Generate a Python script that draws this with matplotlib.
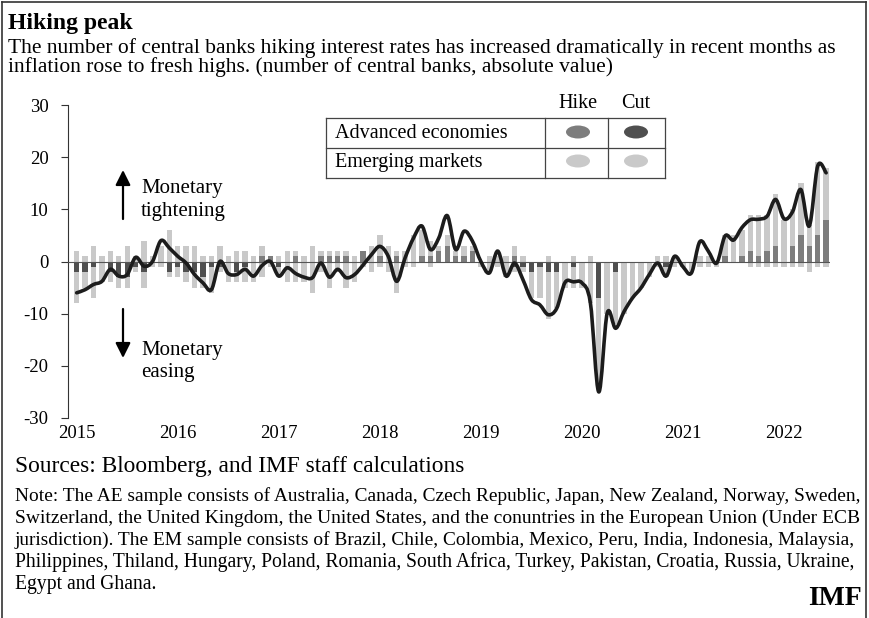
import matplotlib
matplotlib.use("Agg")
import matplotlib.pyplot as plt
import numpy as np
from matplotlib.patches import Ellipse, PathPatch
from matplotlib.path import Path
from matplotlib.lines import Line2D

plt.rcParams['font.family'] = ['Liberation Serif', 'DejaVu Serif']

# ---------------- data (monthly, Jan 2015 - Jun 2022) ----------------
start_year = 2015
em_hike = [2, 1, 3, 1, 2, 1, 3, 1, 4, 1, 3, 6,
           3, 3, 3, 1, 1, 3, 1, 2, 2, 1, 2, 0,
           1, 2, 1, 1, 3, 1, 1, 1, 1, 1, 0, 3,
           4, 3, 1, 2, 5, 5, 3, 1, 2, 1, 2, 1,
           0, 1, 1, 1, 2, 1, 0, 0, 1, 0, 0, 1,
           0, 1, 0, 0, 0, 0, 0, 0, 0, 1, 1, 1,
           0, 0, 1, 1, 0, 4, 5, 5, 7, 8, 7, 10,
           8, 7, 10, 4, 14, 10]
em_cut = [-6, -3, -6, -4, -2, -2, -2, -1, -3, -1, -1, -1,
          -2, -2, -3, -2, -5, -1, -4, -2, -3, -4, -3, -1,
          -2, -4, -4, -4, -6, -2, -5, -2, -5, -4, -1, -2,
          -1, -2, -6, -1, -1, 0, -1, 0, 0, 0, 0, 0,
          -1, -2, -1, -3, -1, -1, -5, -6, -9, -7, -5, -4,
          -5, -8, -17, -10, -10, -10, -7, -5, -3, -1, -2, -1,
          -1, -2, -1, -1, -1, 0, 0, 0, -1, -1, -1, -1,
          -1, -1, -1, -2, -1, -1]
ae_hike = [0, 0, 0, 0, 0, 0, 0, 0, 0, 0, 0, 0,
           0, 0, 0, 0, 0, 0, 0, 0, 0, 0, 1, 1,
           0, 0, 1, 0, 0, 1, 1, 1, 1, 0, 2, 0,
           1, 0, 1, 0, 0, 1, 1, 2, 3, 1, 1, 2,
           0, 0, 0, 0, 1, 0, 0, 0, 0, 0, 0, 0,
           0, 0, 0, 0, 0, 0, 0, 0, 0, 0, 0, 0,
           0, 0, 0, 0, 0, 1, 0, 1, 2, 1, 2, 3,
           0, 3, 5, 3, 5, 8]
ae_cut = [-2, -2, -1, 0, -2, -3, -3, -1, -2, 0, 0, -2,
          -1, -2, -2, -3, -1, -1, 0, -2, -1, 0, 0, 0,
          -1, 0, 0, 0, 0, 0, 0, 0, 0, 0, 0, 0,
          0, 0, 0, 0, 0, 0, 0, 0, 0, 0, 0, 0,
          0, 0, 0, 0, -1, -1, -2, -1, -2, -2, 0, -1,
          0, 0, -7, 0, -2, 0, 0, 0, 0, 0, -1, 0,
          0, 0, 0, 0, 0, 0, 0, 0, 0, 0, 0, 0,
          0, 0, 0, 0, 0, 0]
net_line = [-6.0, -5.4, -4.4, -3.8, -1.5, -2.8, -2.5, 0.8, -0.9, 0.0, 4.0, 2.6,
            1.0, -0.3, -2.5, -4.1, -5.4, 0.0, -2.3, -2.5, -1.5, -2.8, -0.8, 0.0,
            -2.8, -1.2, -2.3, -3.0, -3.1, -0.3, -3.0, -1.5, -3.1, -2.5, -0.7, 1.3,
            2.9, 1.0, -3.8, 0.7, 4.5, 6.8, 2.3, 4.5, 8.8, 2.3, 5.8, 3.9,
            0.0, -2.2, 2.0, -2.8, -0.3, -3.5, -7.3, -8.3, -10.2, -9.0, -4.0, -3.9,
            -4.1, -7.9, -25.0, -9.9, -12.8, -9.6, -7.0, -5.1, -2.5, -0.3, -2.8, 1.0,
            -1.0, -2.2, 3.8, 2.0, -0.3, 4.9, 4.1, 6.5, 8.0, 8.1, 8.7, 11.9,
            8.2, 9.5, 13.8, 6.8, 18.3, 17.0]
year_ticks = [2015, 2016, 2017, 2018, 2019, 2020, 2021, 2022]
year_labels = ['2015', '2016', '2017', '2018', '2019', '2020', '2021', '2022']
y_ticks = [30, 20, 10, 0, -10, -20, -30]
y_labels = ['30', '20', '10', '0', '-10', '-20', '-30']
legend_rows = ['Advanced economies', 'Emerging markets']
legend_cols = ['Hike', 'Cut']

# ---------------- styling ----------------
LIGHT = '#c9c9c9'
AE_HIKE_C = '#7d7d7d'
AE_CUT_C = '#4f4f4f'
W, H = 869, 618
fig = plt.figure(figsize=(W / 100, H / 100), dpi=100)
fig.patch.set_facecolor('white')


def fx(px):
    return px / W


def fy(py):
    return 1 - py / H


def fit(t, target_px):
    fig.canvas.draw()
    r = fig.canvas.get_renderer()
    w = t.get_window_extent(r).width
    t.set_fontsize(t.get_fontsize() * target_px / w)
    return t.get_fontsize()


ax = fig.add_axes([fx(68), fy(418), (830 - 68) / W, (418 - 105) / H])
n = len(net_line)
x = start_year + np.arange(n) / 12.0
bw = 0.64 / 12
em_hike_a = np.array(em_hike, float)
em_cut_a = np.array(em_cut, float)
ae_hike_a = np.array(ae_hike, float)
ae_cut_a = np.array(ae_cut, float)

ax.bar(x, em_hike_a, bw, bottom=ae_hike_a, color=LIGHT, linewidth=0, zorder=2)
ax.bar(x, em_cut_a, bw, bottom=ae_cut_a, color=LIGHT, linewidth=0, zorder=2)
ax.bar(x, ae_hike_a, bw, color=AE_HIKE_C, linewidth=0, zorder=3)
ax.bar(x, ae_cut_a, bw, color=AE_CUT_C, linewidth=0, zorder=3)
ax.axhline(0, color='#555555', lw=0.8, zorder=4)

# smooth (Catmull-Rom style) rendering of the net line through the data points
yv = np.array(net_line, float)
pts = np.column_stack([x, yv])
verts = [pts[0]]
codes = [Path.MOVETO]
for i in range(n - 1):
    p0 = pts[i - 1] if i > 0 else pts[i]
    p1 = pts[i]
    p2 = pts[i + 1]
    p3 = pts[i + 2] if i + 2 < n else pts[i + 1]
    c1 = p1 + (p2 - p0) / 6.0
    c2 = p2 - (p3 - p1) / 6.0
    verts += [c1, c2, p2]
    codes += [Path.CURVE4] * 3
ax.add_patch(PathPatch(Path(verts, codes), facecolor='none', edgecolor='#1c1c1c',
                       lw=2.6, joinstyle='round', capstyle='round', zorder=5))

ax.set_xlim(2014.914, 2022.455)
ax.set_ylim(-30, 30)
ax.set_yticks(y_ticks)
ax.set_yticklabels(y_labels)
ax.set_xticks(year_ticks)
ax.set_xticklabels(year_labels)
for s in ['top', 'right', 'bottom']:
    ax.spines[s].set_visible(False)
ax.spines['left'].set_color('#333333')
ax.spines['left'].set_linewidth(0.8)
ax.tick_params(axis='y', direction='out', length=5, width=0.8, color='#333333',
               labelsize=13.5, pad=9)
ax.tick_params(axis='x', length=0, labelsize=13.5, pad=5)
ax.set_facecolor('none')

# ---------------- legend table ----------------
lx0, lx1, lx2, lx3 = 326, 545, 608, 665
ly0, ly1, ly2 = 118, 148, 178
lc = '#444444'
for (xa, ya, xb, yb) in [(lx0, ly0, lx3, ly0), (lx0, ly1, lx3, ly1), (lx0, ly2, lx3, ly2),
                         (lx0, ly0, lx0, ly2), (lx1, ly0, lx1, ly2), (lx2, ly0, lx2, ly2),
                         (lx3, ly0, lx3, ly2)]:
    fig.add_artist(Line2D([fx(xa), fx(xb)], [fy(ya), fy(yb)], color=lc, lw=0.9))
fig.text(fx(335), fy(133), legend_rows[0], fontsize=14.5, va='center', ha='left')
fig.text(fx(335), fy(162), legend_rows[1], fontsize=14.5, va='center', ha='left')
fig.text(fx(578), fy(104), legend_cols[0], fontsize=14.5, va='center', ha='center')
fig.text(fx(636), fy(104), legend_cols[1], fontsize=14.5, va='center', ha='center')
ecols = [[AE_HIKE_C, AE_CUT_C], [LIGHT, LIGHT]]
for r, cy in enumerate([132, 161]):
    for c, cx in enumerate([578, 636]):
        fig.add_artist(Ellipse((fx(cx), fy(cy)), 24 / W, 13 / H, color=ecols[r][c], lw=0))

# ---------------- arrows & annotations ----------------
ap = dict(arrowstyle='-|>,head_length=0.9,head_width=0.45', color='black', lw=1.6,
          shrinkA=0, shrinkB=0)
ax.annotate('', xy=(fx(123), fy(170)), xytext=(fx(123), fy(219)),
            xycoords='figure fraction', textcoords='figure fraction', arrowprops=ap)
ax.annotate('', xy=(fx(123), fy(358)), xytext=(fx(123), fy(309)),
            xycoords='figure fraction', textcoords='figure fraction', arrowprops=ap)
fig.text(fx(141), fy(189), 'Monetary', fontsize=15, va='center')
fig.text(fx(141), fy(212), 'tightening', fontsize=15, va='center')
fig.text(fx(141), fy(350), 'Monetary', fontsize=15, va='center')
fig.text(fx(141), fy(372), 'easing', fontsize=15, va='center')

# ---------------- titles and notes ----------------
fig.text(fx(8), fy(29), 'Hiking peak', fontsize=17, fontweight='bold', va='baseline')
t_sub = fig.text(fx(8), fy(53), 'The number of central banks hiking interest rates has increased '
                 'dramatically in recent months as', fontsize=13.6, va='baseline')
sub_size = fit(t_sub, 825)
fig.text(fx(8), fy(72), 'inflation rose to fresh highs. (number of central banks, absolute value)',
         fontsize=sub_size, va='baseline')
t_src = fig.text(fx(15), fy(472), 'Sources: Bloomberg, and IMF staff calculations', fontsize=14.5,
                 va='baseline')
fit(t_src, 447)
notes = ['Note: The AE sample consists of Australia, Canada, Czech Republic, Japan, New Zealand, Norway, Sweden,',
         'Switzerland, the United Kingdom, the United States, and the conuntries in the European Union (Under ECB',
         'jurisdiction). The EM sample consists of Brazil, Chile, Colombia, Mexico, Peru, India, Indonesia, Malaysia,',
         'Philippines, Thiland, Hungary, Poland, Romania, South Africa, Turkey, Pakistan, Croatia, Russia, Ukraine,',
         'Egypt and Ghana.']
note_size = 12.3
for k, line in enumerate(notes):
    t = fig.text(fx(15), fy(501 + 22 * k), line, fontsize=12.3, va='baseline')
    if k < len(notes) - 1:
        note_size = fit(t, 844)
    else:
        t.set_fontsize(note_size)
fig.text(fx(862), fy(605), 'IMF', fontsize=20, fontweight='bold', va='baseline', ha='right')

# border
for (xa, ya, xb, yb) in [(2, 2, 866, 2), (2, 2, 2, 620), (866, 2, 866, 620)]:
    fig.add_artist(Line2D([fx(xa), fx(xb)], [fy(ya), fy(yb)], color='#333333', lw=1.2))

fig.savefig('out.png', dpi=100)
